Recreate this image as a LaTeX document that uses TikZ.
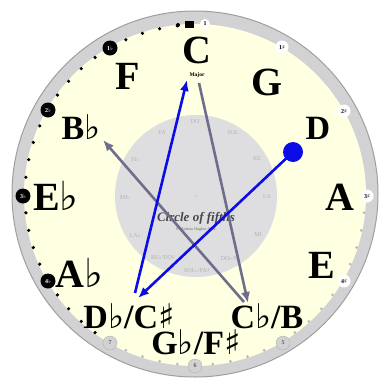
\documentclass[tikz,border=0pt]{standalone}
\usepackage{fontspec}
\setmainfont{Liberation Serif}
\newfontfamily\musfont{DejaVu Serif}
\usetikzlibrary{arrows.meta}
\definecolor{cream}{RGB}{255,255,226}
\definecolor{ringgray}{RGB}{210,210,212}
\definecolor{diskgray}{RGB}{222,222,224}
\definecolor{slate}{RGB}{110,110,140}
\definecolor{keyblue}{RGB}{12,12,230}
\newcommand{\flt}{{\musfont\char"266D}}
\newcommand{\shp}{{\musfont\char"266F}}

\begin{document}
\begin{tikzpicture}[x=1pt, y=-1pt, every node/.style={inner sep=0pt},
  key/.style={font=\bfseries\fontsize{40}{40}\selectfont},
  keysm/.style={font=\bfseries\fontsize{34}{34}\selectfont},
  solfa/.style={font=\fontsize{6}{6}\selectfont, text=gray!60},
  flatbadge/.style={circle, fill=black, minimum size=15pt, text=white, font=\bfseries\fontsize{6}{6}\selectfont},
  sharpbadge/.style={circle, fill=white, minimum size=13pt, font=\bfseries\fontsize{6}{6}\selectfont},
  numbadge/.style={circle, fill=gray!35, draw=gray!60, minimum size=14pt, text=gray!70!black, font=\bfseries\fontsize{6}{6}\selectfont},
  bluearrow/.style={keyblue, line width=2.6pt, -{Latex[length=11pt,width=9pt]}},
  grayarrow/.style={slate, line width=2.6pt, -{Latex[length=11pt,width=9pt]}}]
\useasboundingbox (0,0) rectangle (387,378);
\fill[white] (0,0) rectangle (387,378);
\filldraw[fill=ringgray, draw=gray!75, line width=1pt] (195,194) circle[radius=183pt];
\fill[cream] (195,195) circle[radius=171pt];
\fill[diskgray] (196,196) circle[radius=81pt];

\foreach \k in {90,120,...,210}
  \foreach \j in {6,12,18,24}
    \fill[black] ({195+170*cos(\k+\j)},{195-170*sin(\k+\j)}) circle[radius=1.8pt];
\foreach \k in {240,270,300,330}
  \foreach \j in {6,12,18,24}
    \fill[gray!55] ({195+170*cos(\k+\j)},{195-170*sin(\k+\j)}) circle[radius=1.5pt];

\fill[black] (178,25) circle[radius=2pt];
\node[fill=black, minimum width=9pt, minimum height=7pt] (clef) at (189,24) {};
\node[sharpbadge, minimum size=10pt] (one) at (205,24) {1};
\node[flatbadge] (f1) at (110,48) {1\flt};
\node[flatbadge] (f2) at (48,110) {2\flt};
\node[flatbadge] (f3) at (23,196) {3\flt};
\node[flatbadge] (f4) at (48,281) {4\flt};
\node[numbadge] (n7) at (110,343) {7};
\node[numbadge] (n6) at (195,366) {6};
\node[numbadge] (n5) at (283,343) {5};
\node[sharpbadge] (s4) at (344,281) {4\shp};
\node[sharpbadge] (s3) at (367,196) {3\shp};
\node[sharpbadge] (s2) at (344,111) {2\shp};
\node[sharpbadge] (s1) at (282,47) {1\shp};

\node[solfa] (do) at (195,122) {DO};
\node[solfa] (sol) at (233,133) {SOL};
\node[solfa] (re) at (257,159) {RE};
\node[solfa] (la) at (267,197) {LA};
\node[solfa] (mi) at (258,235) {MI};
\node[solfa] (dob) at (230,258) {DO\flt/SI};
\node[solfa] (solb) at (197,270) {SOL\flt/FA\shp};
\node[solfa] (reb) at (163,257) {RE\flt/DO\shp};
\node[solfa] (lab) at (135,235) {LA\flt};
\node[solfa] (mib) at (125,197) {MI\flt};
\node[solfa] (sib) at (135,159) {SI\flt};
\node[solfa] (fa) at (162,133) {FA};
\node[solfa] (plus) at (196,197) {+};
\node[font=\bfseries\itshape\fontsize{13}{13}\selectfont, text=black!72] (title) at (196,218) {Circle of fifths};
\node[font=\fontsize{4}{4}\selectfont, text=black!60] (credit) at (196,230) {F. Haskins Hughes 2004};

\node[key] (C) at (197,50) {C};
\node[font=\bfseries\fontsize{5.5}{5.5}\selectfont] (major) at (197,75) {Major};
\node[key] (G) at (267,82) {G};
\node[keysm] (D) at (318,128) {D};
\node[key] (A) at (340,197) {A};
\node[key] (E) at (322,265) {E};
\node[keysm] (Cb) at (267,316) {C\flt/B};
\node[keysm] (Gb) at (196,342) {G\flt/F\shp};
\node[keysm] (Db) at (129,316) {D\flt/C\shp};
\node[key] (Ab) at (79,273) {A\flt};
\node[key] (Eb) at (56,196) {E\flt};
\node[keysm] (Bb) at (81,127) {B\flt};
\node[key] (F) at (128,76) {F};

\node[circle, fill=keyblue, minimum size=20pt] (dot) at (293,152) {};
\coordinate (tipDb) at (138,298);
\coordinate (tailDb) at (135,293);
\coordinate (tipC) at (187,80);
\coordinate (tailC) at (199,83);
\coordinate (tipB) at (248,303);
\coordinate (tailB) at (244,302);
\coordinate (tipBb) at (103,140);
\draw[grayarrow] (tailC) -- (tipB);
\draw[grayarrow] (tailB) -- (tipBb);
\draw[bluearrow] (dot.center) -- (tipDb);
\draw[bluearrow] (tailDb) -- (tipC);
\end{tikzpicture}
\end{document}
